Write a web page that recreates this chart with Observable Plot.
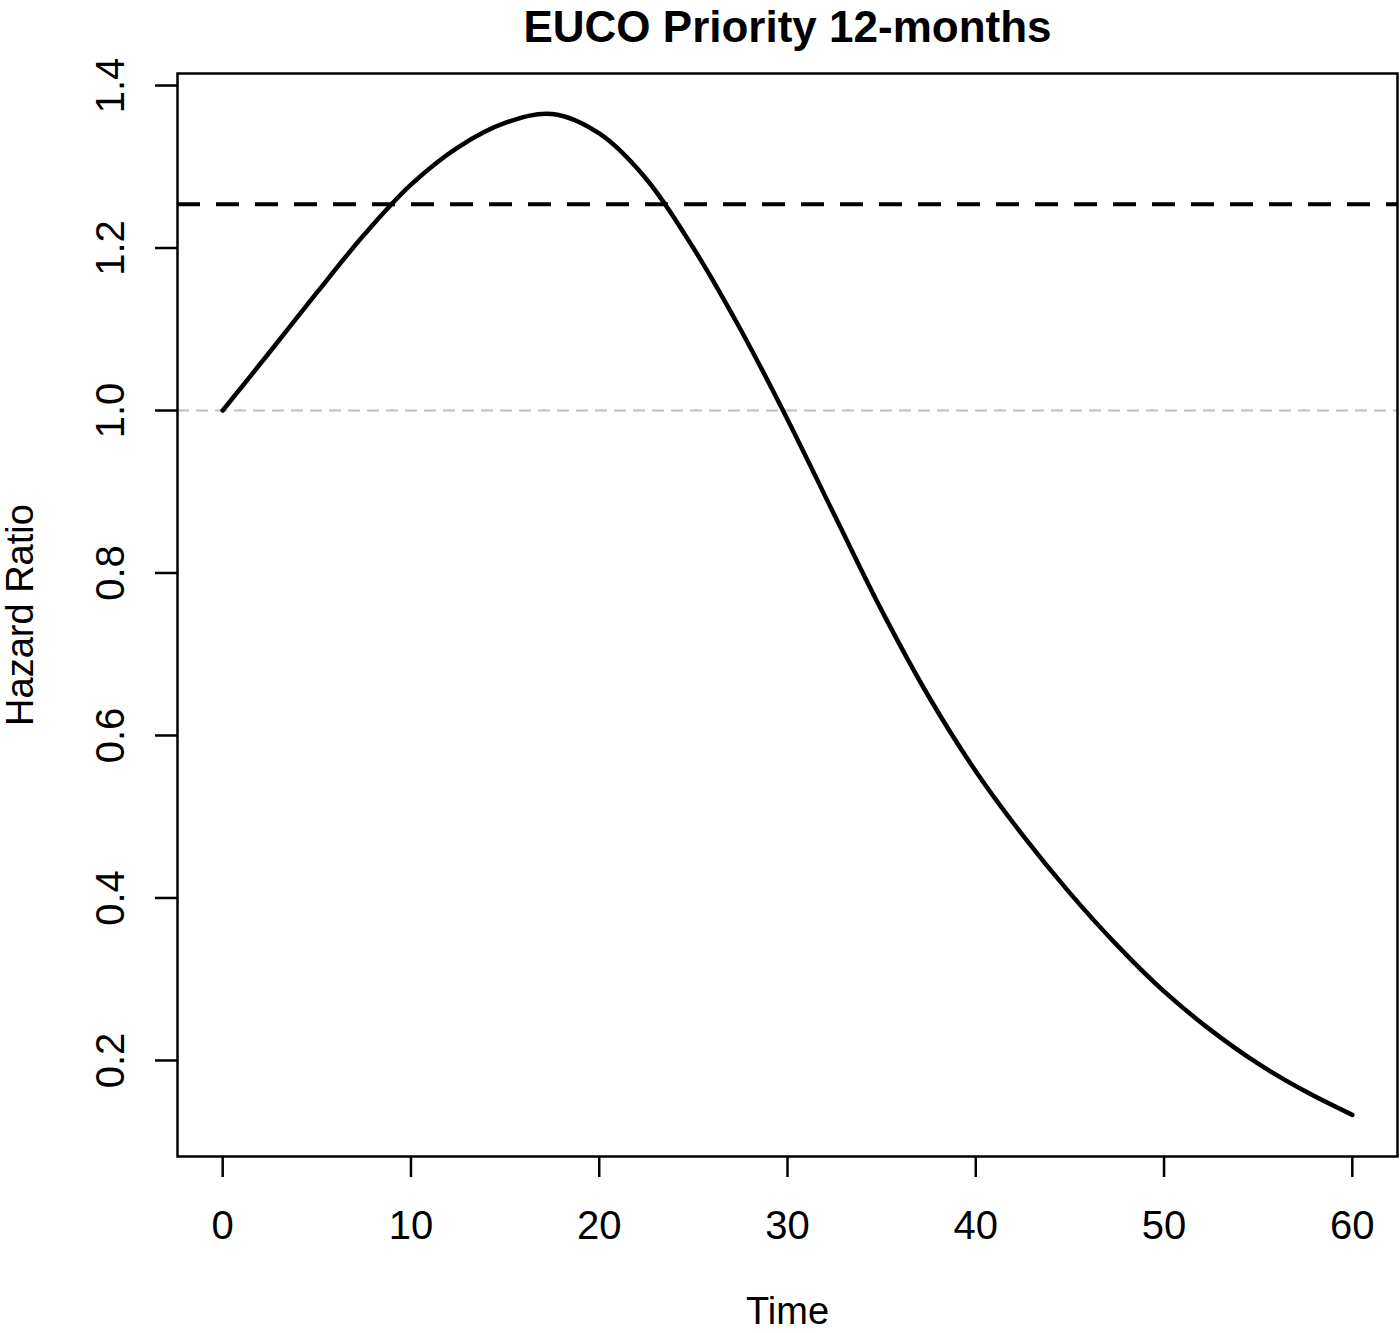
<!DOCTYPE html>
<html>
<head>
<meta charset="utf-8">
<script src="https://cdn.jsdelivr.net/npm/d3@7"></script>
<script src="https://cdn.jsdelivr.net/npm/@observablehq/plot@0.6"></script>
<style>
  html, body { margin: 0; padding: 0; background: #ffffff; }
  svg { display: block; }
</style>
</head>
<body>
<script>
// ---- data ----
const titleText = "EUCO Priority 12-months";
const xLabel = "Time";
const yLabel = "Hazard Ratio";

const time = [0, 2.5, 5, 7.5, 10, 12.5, 15, 17.5, 20, 22.5, 25, 27.5, 30, 32.5, 35, 37.5, 40, 42.5, 45, 47.5, 50, 52.5, 55, 57.5, 60];
const hazardRatio = [1.000, 1.072, 1.145, 1.216, 1.278, 1.324, 1.354, 1.365, 1.341, 1.285, 1.200, 1.100, 0.989, 0.871, 0.754, 0.648, 0.556, 0.477, 0.406, 0.342, 0.285, 0.237, 0.196, 0.162, 0.133];

const averageHR = 1.254;   // dashed black reference line
const nullHR = 1.0;        // grey dotted reference line

const xTicks = [0, 10, 20, 30, 40, 50, 60];
const yTicks = [0.2, 0.4, 0.6, 0.8, 1.0, 1.2, 1.4];

// ---- build table ----
const curve = time.map((t, i) => ({time: t, hr: hazardRatio[i]}));

const font = "'Liberation Sans', Arial, Helvetica, sans-serif";

const chart = Plot.plot({
  width: 1400,
  height: 1333,
  marginLeft: 177,
  marginRight: 3,
  marginTop: 73,
  marginBottom: 177,
  style: {fontFamily: font, background: "#ffffff", color: "#000000"},
  x: {domain: [-2.4, 62.4]},
  y: {domain: [0.0818, 1.4148]},
  marks: [
    // reference lines
    Plot.ruleY([nullHR], {stroke: "#bebebe", strokeWidth: 2, strokeDasharray: "12,7"}),
    Plot.ruleY([averageHR], {stroke: "#000000", strokeWidth: 4, strokeDasharray: "23,16"}),
    // hazard ratio curve
    Plot.line(curve, {x: "time", y: "hr", stroke: "#000000", strokeWidth: 4.5, curve: "catmull-rom"}),
    // box
    Plot.frame({stroke: "#000000", strokeWidth: 2.5}),
    // x axis
    Plot.axisX({ticks: xTicks, tickSize: 21, tickPadding: 33, fontSize: 40, strokeWidth: 2.5,
                tickFormat: d => String(d), label: null, fontFamily: font}),
    // y axis ticks (labels drawn rotated below)
    Plot.axisY({ticks: yTicks, tickSize: 22, tickFormat: () => "", strokeWidth: 2.5, label: null}),
    Plot.text(yTicks, {y: d => d, text: d => d.toFixed(1), frameAnchor: "left", rotate: -90,
                       textAnchor: "middle", lineAnchor: "bottom", dx: -54, fontSize: 40,
                       fontFamily: font, fill: "#000000"}),
    // axis titles
    Plot.text([yLabel], {frameAnchor: "left", rotate: -90, textAnchor: "middle", lineAnchor: "bottom",
                         dx: -145, fontSize: 38, fontFamily: font, fill: "#000000"}),
    Plot.text([xLabel], {frameAnchor: "bottom", textAnchor: "middle", lineAnchor: "bottom",
                         dy: 167, fontSize: 38, fontFamily: font, fill: "#000000"}),
    // main title
    Plot.text([titleText], {frameAnchor: "top", textAnchor: "middle", lineAnchor: "bottom",
                            dy: -32, fontSize: 44, fontWeight: "bold", fontFamily: font, fill: "#000000"})
  ]
});

document.body.appendChild(chart);
</script>
</body>
</html>
